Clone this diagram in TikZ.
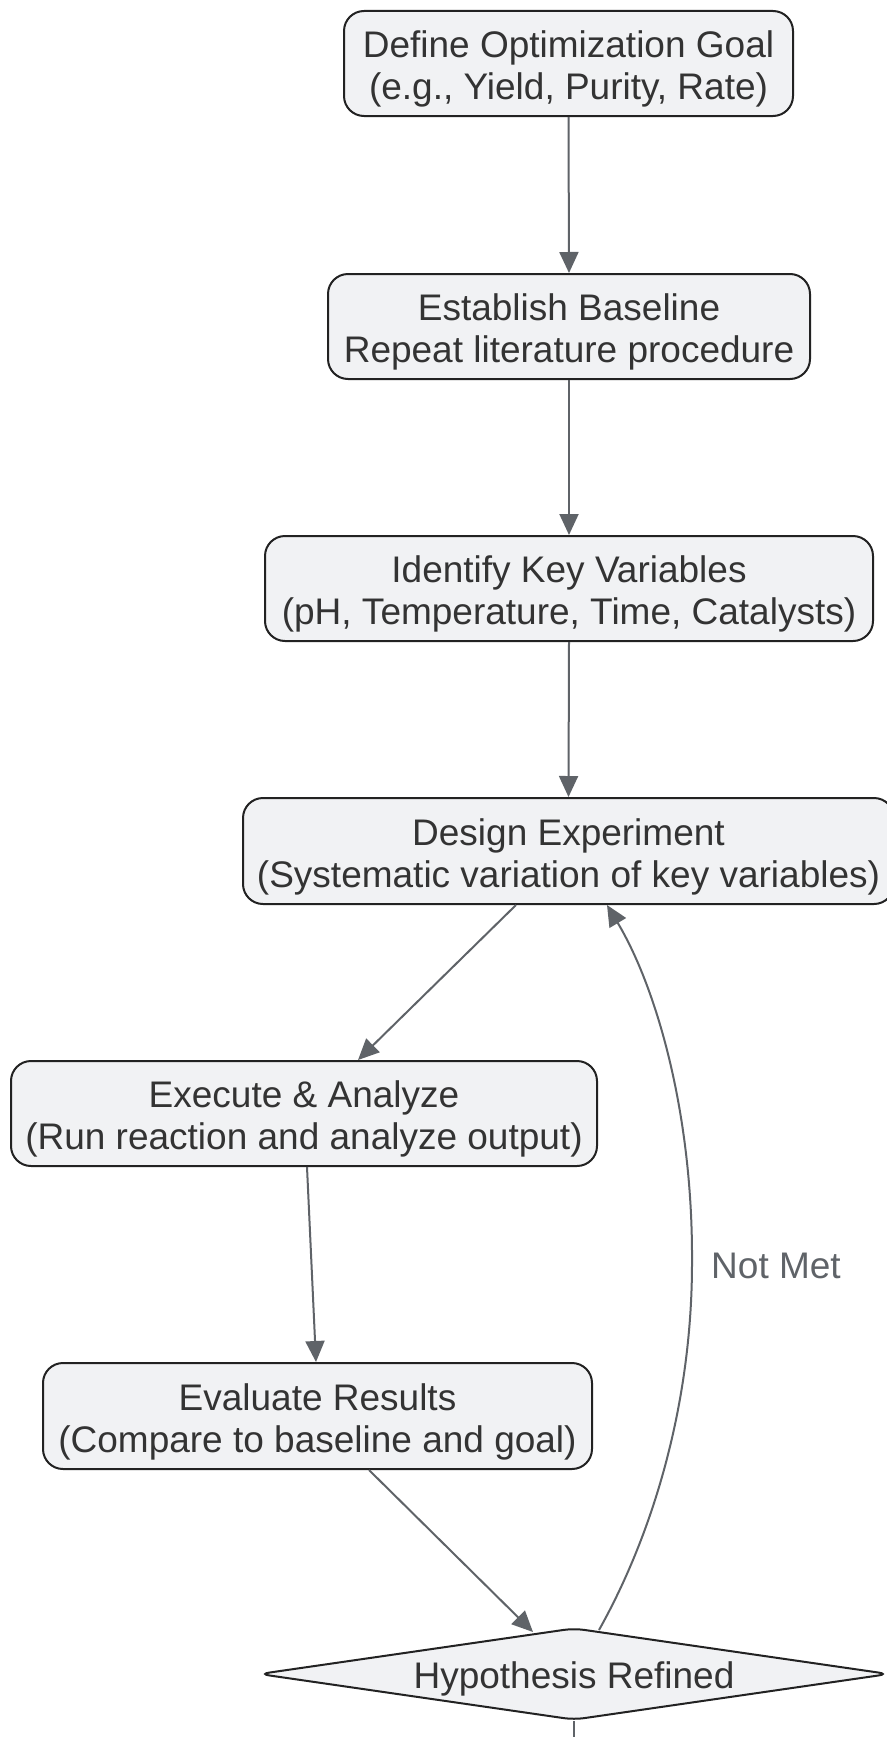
\documentclass[tikz,border=0pt]{standalone}
\usepackage{fontspec}
\setmainfont{Liberation Sans}
\usetikzlibrary{arrows.meta,shapes.geometric,calc}
\definecolor{nodefill}{HTML}{F1F2F4}
\definecolor{nodeline}{HTML}{222222}
\definecolor{txt}{HTML}{333333}
\definecolor{edgecol}{HTML}{5F6368}
\newcommand{\mystrut}{\rule{0pt}{38pt}}
\newcommand{\mydstrut}{\rule{0pt}{36pt}}
\begin{document}
\begin{tikzpicture}[x=1pt,y=-1pt,
  box/.style={draw=nodeline, line width=2pt, fill=nodefill, rounded corners=20pt,
    align=center, inner sep=0pt, text=txt, font=\fontsize{37}{42}\selectfont},
  decision/.style={draw=nodeline, line width=2pt, fill=nodefill, diamond, aspect=6.85,
    inner sep=0pt, rounded corners=10pt, text=txt, font=\fontsize{37}{42}\selectfont},
  arr/.style={draw=edgecol, line width=2pt, -{Triangle[length=21pt,width=19pt]}},
  plainedge/.style={draw=edgecol, line width=2pt},
  elabel/.style={text=edgecol, font=\fontsize{37}{42}\selectfont, inner sep=0pt}
]
\useasboundingbox (0,0) rectangle (886,1737);

\node[box, minimum width=449pt, minimum height=105pt] (b1) at (568.5,63.5)
  {\mystrut Define Optimization Goal\\(e.g., Yield, Purity, Rate)};
\node[box, minimum width=482pt, minimum height=105pt] (b2) at (569,326.5)
  {\mystrut Establish Baseline\\Repeat literature procedure};
\node[box, minimum width=608pt, minimum height=105pt] (b3) at (569,588.5)
  {\mystrut Identify Key Variables\\(pH, Temperature, Time, Catalysts)};
\node[box, minimum width=651pt, minimum height=106pt] (b4) at (568.5,851)
  {\mystrut Design Experiment\\(Systematic variation of key variables)};
\node[box, minimum width=586pt, minimum height=105pt] (b5) at (304,1113.5)
  {\mystrut Execute \& Analyze\\(Run reaction and analyze output)};
\node[box, minimum width=549pt, minimum height=106pt] (b6) at (317.5,1416)
  {\mystrut Evaluate Results\\(Compare to baseline and goal)};
\node[decision, minimum width=630pt, minimum height=92pt] (d) at (574,1674)
  {\mydstrut Hypothesis Refined};

\coordinate (dend) at (574,1737);

\draw[arr] (b1.south) -- (b2.north);
\draw[arr] (b2.south) -- (b3.north);
\draw[arr] (b3.south) -- (b4.north);
\draw[arr] ([xshift=-52.5pt]b4.south) -- ([xshift=54pt]b5.north);
\draw[arr] ([xshift=3pt]b5.south) -- ([xshift=-1.5pt]b6.north);
\draw[arr] ([xshift=51.5pt]b6.south) -- ([xshift=-41pt,yshift=-5pt]d.north);
\draw[arr] ([xshift=25pt,yshift=-3pt]d.north) .. controls (655,1530) and (692,1400) .. (692,1263)
  .. controls (693,1110) and (655,985) .. ([xshift=38.5pt]b4.south);
\draw[plainedge] (d.south) -- (dend);

\node[elabel] (nm) at (776,1266) {Not Met};
\end{tikzpicture}
\end{document}
